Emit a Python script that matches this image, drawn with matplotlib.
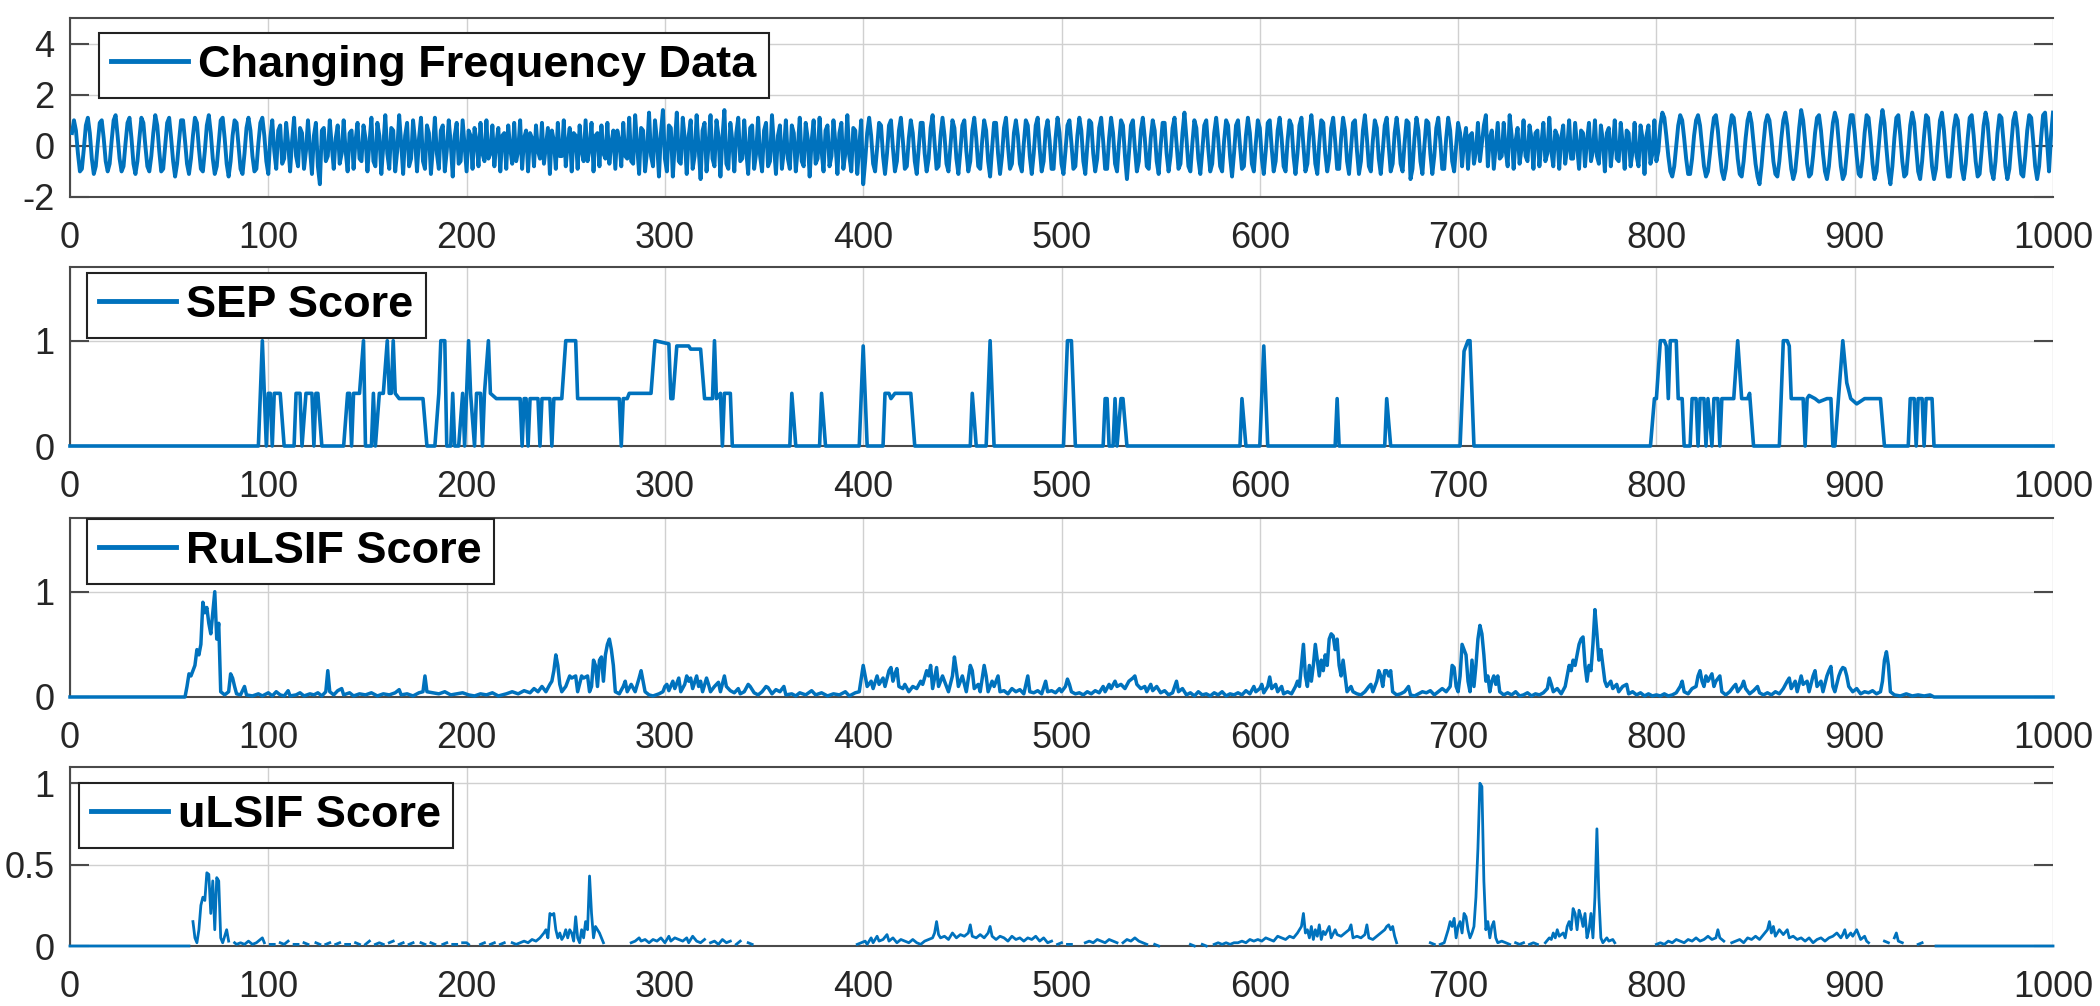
import numpy as np
import matplotlib
matplotlib.use("Agg")
import matplotlib.pyplot as plt

nan = float("nan")

# ---------------- data ----------------
SIGNAL = [
    0.5, 1.0, 0.6, -0.3, -1.0, -0.9, -0.1, 0.8, 1.1, 0.5, -0.5, -1.1, -0.8, 0.1, 0.9, 1.0, 0.3, -0.6, -1.0, -0.7,
    0.2, 1.0, 1.2, 0.4, -0.5, -1.0, -0.8, 0.1, 0.9, 1.1, 0.3, -0.7, -1.1, -0.6, 0.3, 1.1, 0.9, 0.0, -0.8, -1.0,
    -0.4, 0.5, 1.2, 0.8, -0.2, -1.0, -0.9, 0.0, 0.9, 1.1, 0.3, -0.6, -1.2, -0.7, 0.2, 1.0, 1.0, 0.2, -0.7, -1.1,
    -0.5, 0.4, 1.1, 0.9, -0.1, -0.9, -1.0, -0.2, 0.8, 1.2, 0.5, -0.5, -1.1, -0.8, 0.1, 1.0, 1.1, 0.3, -0.7, -1.2,
    -0.6, 0.4, 1.0, 0.9, 0.0, -0.9, -1.1, -0.3, 0.7, 1.1, 0.6, -0.4, -1.0, -0.9, 0.1, 0.9, 1.1, 0.4, -0.6, -1.1,
    0.3, 1.0, -0.2, -0.9, 0.6, 0.8, -0.7, -0.5, 0.9, 0.1, -1.0, 0.2, 1.1, -0.4, -0.8, 0.7, 0.5, -0.9, -0.2, 1.0,
    -0.1, -1.1, 0.4, 0.9, -0.8, -1.5, 0.6, 0.7, -0.6, -0.4, 1.0, 0.0, -0.9, 0.3, 0.8, -0.7, -0.3, 1.0, -0.2, -1.0,
    0.5, 0.6, -0.9, 0.2, 0.9, -0.5, -0.6, 0.8, 0.3, -1.0, 0.1, 1.1, -0.6, -0.8, 0.9, 0.4, -1.1, 0.0, 1.2, -0.3,
    -0.9, 0.7, 0.6, -1.0, -0.2, 1.2, 0.1, -1.1, 0.4, 0.9, -0.8, -0.5, 1.0, 0.2, -1.0, 0.3, 1.1, -0.6, -0.9, 0.8,
    0.5, -1.1, -0.1, 1.1, -0.3, -0.9, 0.6, 0.8, -1.0, -0.2, 1.0, 0.1, -1.2, 0.4, 0.9, -0.7, -0.6, 1.0, 0.0, -1.0,
    0.6, 0.4, -0.9, 0.7, 0.2, -0.8, 0.9, -0.3, -0.6, 1.0, -0.5, -0.3, 0.8, -0.8, 0.1, 0.7, -1.0, 0.4, 0.5, -0.9,
    0.8, -0.1, -0.7, 0.9, -0.6, -0.2, 1.0, -0.9, 0.3, 0.6, -1.0, 0.5, 0.3, -0.8, 0.8, -0.2, -0.5, 0.9, -0.7, 0.0,
    0.7, -1.1, 0.6, 0.2, -0.9, 0.9, -0.4, -0.4, 1.0, -0.8, 0.1, 0.7, -1.0, 0.5, 0.4, -0.9, 0.8, -0.2, -0.6, 1.0,
    -0.6, -0.1, 0.9, -1.0, 0.4, 0.5, -0.8, 0.8, -0.3, -0.5, 0.9, -0.7, 0.1, 0.6, -0.9, 0.6, 0.2, -0.8, 0.9, -0.4,
    -0.5, 1.1, -0.6, -0.7, 1.2, 0.0, -1.1, 0.7, 0.6, -1.0, -0.2, 1.3, -0.4, -0.8, 1.0, 0.2, -1.2, 0.5, 1.4, -0.5,
    -1.0, 0.8, 0.7, -1.2, 0.1, 1.3, -0.6, -0.7, 1.1, 0.3, -1.1, 0.4, 1.0, -0.9, -0.4, 1.2, -0.1, -1.3, 0.6, 0.9,
    -1.0, 0.0, 1.2, -0.5, -0.8, 1.0, 0.4, -1.2, 0.3, 1.4, -0.7, -0.9, 0.9, 0.2, -1.0, 0.5, 1.1, -0.6, -0.5, 1.0,
    -0.2, -1.1, 0.7, 0.8, -0.9, -0.3, 1.1, -0.4, -1.0, 0.6, 0.9, -0.8, -0.6, 1.2, 0.0, -1.1, 0.4, 0.8, -0.9, -0.2,
    1.0, -0.5, -0.9, 0.8, 0.5, -1.0, -0.1, 1.1, -0.6, -0.8, 0.9, 0.3, -1.2, 0.2, 1.0, -0.7, -0.5, 1.1, -0.2, -1.0,
    0.6, 0.8, -0.8, -0.4, 1.0, 0.1, -1.1, 0.5, 0.9, -0.9, -0.3, 1.2, -0.4, -1.0, 0.7, 0.6, -1.1, 0.0, 1.0, -1.5,
    -0.6, 0.5, 1.1, 0.4, -0.7, -1.0, -0.1, 0.9, 0.8, -0.4, -1.1, -0.3, 0.8, 1.0, -0.1, -1.0, -0.6, 0.6, 1.1, 0.2,
    -0.9, -0.8, 0.3, 1.0, 0.5, -0.6, -1.1, -0.1, 0.9, 0.9, -0.3, -1.0, -0.5, 0.7, 1.2, 0.1, -0.9, -0.8, 0.4, 1.1,
    0.4, -0.7, -1.0, 0.0, 1.0, 0.7, -0.5, -1.1, -0.2, 0.8, 1.0, -0.2, -1.0, -0.6, 0.6, 1.1, 0.3, -0.8, -0.9, 0.2,
    1.0, 0.6, -0.6, -1.2, -0.1, 0.9, 0.9, -0.3, -1.1, -0.4, 0.7, 1.1, 0.0, -0.9, -0.7, 0.5, 1.0, 0.4, -0.7, -1.0,
    0.1, 1.0, 0.8, -0.4, -1.1, -0.3, 0.8, 1.1, -0.1, -1.0, -0.6, 0.6, 1.0, 0.2, -0.9, -0.9, 0.3, 1.1, 0.5, -0.7,
    -1.1, -0.2, 0.8, 1.0, 0.1, -0.9, -0.8, 0.4, 1.1, 0.6, -0.6, -1.1, 0.0, 1.0, 0.9, -0.3, -1.0, -0.5, 0.7, 1.1,
    0.2, -0.9, -0.9, 0.3, 1.1, 0.5, -0.7, -1.0, 0.1, 1.0, 0.8, -0.4, -1.3, -0.3, 0.8, 1.0, -0.1, -1.0, -0.6, 0.6,
    1.1, 0.3, -0.8, -0.9, 0.3, 1.0, 0.6, -0.6, -1.1, 0.0, 0.9, 0.9, -0.3, -1.0, -0.4, 0.7, 1.1, 0.1, -0.9, -0.7,
    0.5, 1.3, 0.3, -0.8, -1.0, 0.1, 1.0, 0.7, -0.5, -1.1, -0.2, 0.8, 1.0, -0.1, -1.0, -0.7, 0.5, 1.1, 0.3, -0.8,
    -1.0, 0.2, 1.0, 0.8, -0.4, -1.2, -0.3, 0.8, 1.0, 0.0, -0.9, -0.8, 0.4, 1.1, 0.5, -0.7, -1.0, 0.1, 1.0, 0.7,
    -0.5, -1.1, -0.2, 0.9, 1.0, -0.1, -1.0, -0.6, 0.6, 1.1, 0.3, -0.8, -1.0, 0.2, 1.0, 0.8, -0.4, -1.1, -0.3, 0.8,
    1.1, 0.0, -1.0, -0.7, 0.5, 1.2, 0.4, -0.7, -1.1, 0.1, 1.0, 0.9, -0.3, -1.0, -0.5, 0.7, 1.1, 0.2, -0.9, -0.9,
    0.3, 1.1, 0.6, -0.6, -1.1, -0.1, 0.9, 1.0, -0.2, -1.1, -0.6, 0.6, 1.2, 0.3, -0.8, -1.0, 0.2, 1.0, 0.7, -0.5,
    -1.1, -0.2, 0.8, 1.1, 0.0, -1.0, -0.7, 0.5, 1.1, 0.4, -0.7, -1.0, 0.1, 1.0, 0.9, -1.3, -0.9, 0.3, 1.1, 0.6,
    -0.6, -1.1, 0.0, 1.0, 0.9, -0.3, -1.1, -0.4, 0.7, 1.1, 0.2, -0.9, -0.9, 0.3, 1.1, 0.6, -0.6, -1.0, 0.0, 0.9,
    0.5, -0.8, 0.2, 0.7, -0.9, 0.4, 0.5, -0.7, -0.2, 0.9, -0.6, 0.1, 0.8, 1.2, -0.8, 0.3, 0.6, -0.9, 0.0, 0.9,
    -0.5, -0.4, 0.9, -0.2, -0.8, 1.2, 0.4, -0.9, 0.2, 0.7, -0.7, -0.1, 1.0, -0.4, -0.6, 0.8, 0.3, -0.9, 0.5, 0.6,
    -0.8, 0.1, 0.9, -0.6, -0.3, 1.1, -0.2, -0.8, 0.6, 0.4, -0.9, 0.3, 0.8, -0.7, -0.1, 1.0, -0.5, -0.5, 0.9, 0.0,
    -0.9, 0.6, 0.5, -0.8, 0.2, 0.9, -0.6, -0.2, 1.0, -0.4, -0.7, 0.8, 0.2, -1.0, 0.5, 0.7, -0.8, 0.0, 1.0, -0.5,
    -0.6, 0.9, 0.1, -0.9, 0.6, 0.5, -0.8, -0.2, 0.9, -0.4, -0.8, 0.8, 0.3, -1.1, 0.4, 0.8, -0.7, -0.3, 1.0, -0.6,
    -0.2, 0.8, 1.3, 1.1, 0.4, -0.4, -1.0, -1.2, -0.8, 0.0, 0.8, 1.2, 1.0, 0.3, -0.5, -1.1, -1.1, -0.5, 0.4, 1.0,
    1.2, 0.8, 0.0, -0.8, -1.2, -1.0, -0.3, 0.5, 1.1, 1.2, 0.6, -0.3, -1.0, -1.3, -0.9, -0.1, 0.7, 1.2, 1.1, 0.4,
    -0.5, -1.1, -1.2, -0.6, 0.3, 1.0, 1.3, 0.9, 0.1, -0.7, -1.2, -1.5, -0.8, 0.1, 0.9, 1.2, 1.0, 0.3, -0.6, -1.1,
    -1.2, -0.6, 0.3, 1.0, 1.3, 0.8, -0.1, -0.9, -1.3, -1.0, -0.2, 0.7, 1.4, 1.0, 0.2, -0.7, -1.2, -1.1, -0.4, 0.5,
    1.1, 1.2, 0.6, -0.3, -1.0, -1.3, -0.8, 0.1, 0.9, 1.3, 1.0, 0.1, -0.8, -1.3, -1.1, -0.3, 0.6, 1.2, 1.2, 0.5,
    -0.4, -1.1, -1.2, -0.5, 0.5, 1.2, 1.1, 0.3, -0.7, -1.3, -1.0, -0.1, 0.8, 1.4, 0.9, -0.1, -1.0, -1.5, -0.8, 0.3,
    1.1, 1.2, 0.4, -0.6, -1.2, -1.1, -0.2, 0.8, 1.3, 0.9, -0.1, -1.0, -1.3, -0.6, 0.4, 1.2, 1.1, 0.2, -0.8, -1.3,
    -0.9, 0.1, 1.0, 1.3, 0.6, -0.4, -1.2, -1.2, -0.3, 0.7, 1.2, 1.0, 0.0, -0.9, -1.3, -0.7, 0.3, 1.1, 1.2, 0.4,
    -0.6, -1.2, -1.1, -0.2, 0.8, 1.3, 0.9, -0.1, -1.0, -1.3, -0.6, 0.5, 1.2, 1.1, 0.2, -0.8, -1.3, -0.9, 0.1, 1.0,
    1.3, 0.7, -0.3, -1.1, -1.2, -0.4, 0.6, 1.2, 1.1, 0.2, -0.8, -1.3, -0.8, 0.3, 1.2, 1.3, 0.2, -1.0, 0.4, 1.3,
]

SEP_POINTS = [
    (0, 0), (95, 0), (97, 1), (98, 0.5), (99, 0), (100, 0.5), (101, 0.5), (102, 0), (103, 0.5), (106, 0.5),
    (108, 0), (113, 0), (114, 0.5), (116, 0.5), (117, 0), (119, 0.5), (122, 0.5), (123, 0), (124, 0.5),
    (125, 0.5), (127, 0), (138, 0), (140, 0.5), (141, 0.5), (142, 0), (143, 0.5), (146, 0.5), (148, 1),
    (149, 0), (152, 0), (153, 0.5), (154, 0), (156, 0.5), (158, 0.5), (160, 1), (161, 0.5), (162, 0.5),
    (163, 1), (164, 0.5), (166, 0.45), (178, 0.45), (180, 0), (184, 0), (186, 0.5), (187, 1), (189, 1),
    (190, 0), (192, 0), (193, 0.5), (194, 0), (196, 0), (198, 0.5), (199, 0), (201, 1), (202, 0.5), (204, 0),
    (205, 0.5), (207, 0.5), (208, 0), (209, 0.5), (211, 1), (212, 0.5), (215, 0.45), (227, 0.45), (228, 0),
    (229, 0.45), (230, 0.45), (231, 0), (232, 0.45), (236, 0.45), (237, 0), (238, 0.45), (242, 0.45),
    (243, 0), (244, 0.45), (248, 0.45), (250, 1), (255, 1), (256, 0.45), (277, 0.45), (278, 0), (279, 0.45),
    (281, 0.45), (282, 0.5), (293, 0.5), (295, 1), (302, 0.97), (303, 0.45), (304, 0.45), (306, 0.95),
    (312, 0.95), (313, 0.92), (318, 0.92), (320, 0.45), (324, 0.45), (325, 1), (326, 0.45), (328, 0.5),
    (329, 0), (330, 0.5), (333, 0.5), (334, 0), (363, 0), (364, 0.5), (366, 0), (378, 0), (379, 0.5),
    (381, 0), (398, 0), (400, 0.95), (402, 0), (410, 0), (411, 0.5), (413, 0.5), (414, 0.45), (416, 0.5),
    (424, 0.5), (426, 0), (454, 0), (455, 0.5), (457, 0), (462, 0), (464, 1), (466, 0), (501, 0), (503, 1),
    (505, 1), (507, 0), (521, 0), (522, 0.45), (523, 0.45), (524, 0), (526, 0), (527, 0.45), (528, 0),
    (530, 0.45), (531, 0.45), (533, 0), (590, 0), (591, 0.45), (593, 0), (600, 0), (602, 0.95), (604, 0),
    (638, 0), (639, 0.45), (640, 0), (663, 0), (664, 0.45), (666, 0), (701, 0), (703, 0.9), (705, 1),
    (706, 1), (708, 0), (797, 0), (799, 0.45), (800, 0.45), (802, 1), (804, 1), (805, 0.95), (806, 0.45),
    (807, 1), (810, 1), (811, 0.45), (813, 0.45), (814, 0), (817, 0), (818, 0.45), (820, 0.45), (821, 0),
    (822, 0.45), (824, 0.45), (825, 0), (826, 0.45), (828, 0), (829, 0.45), (831, 0.45), (832, 0),
    (833, 0.45), (839, 0.45), (841, 1), (843, 0.45), (846, 0.45), (847, 0.5), (849, 0), (862, 0), (864, 1),
    (866, 1), (867, 0.95), (868, 0.45), (874, 0.45), (875, 0), (876, 0.45), (877, 0.48), (880, 0.45),
    (882, 0.42), (886, 0.45), (888, 0.45), (889, 0), (890, 0), (892, 0.5), (894, 1), (896, 0.6), (898, 0.45),
    (901, 0.4), (905, 0.45), (913, 0.45), (915, 0), (927, 0), (928, 0.45), (930, 0.45), (931, 0),
    (932, 0.45), (934, 0.45), (935, 0), (936, 0.45), (939, 0.45), (940, 0), (1000, 0),
]

RULSIF_POINTS = [
    (0, 0.0), (58, 0.0), (59, 0.1), (60, 0.22), (61, 0.2), (62, 0.25), (63, 0.3), (64, 0.45), (65, 0.4),
    (66, 0.5), (67, 0.9), (68, 0.8), (69, 0.85), (70, 0.7), (71, 0.6), (72, 0.8), (73, 1.0), (74, 0.55),
    (75, 0.7), (76, 0.05), (78, 0.02), (80, 0.05), (81, 0.22), (82, 0.18), (83, 0.1), (84, 0.03), (86, 0.02),
    (88, 0.1), (89, 0.02), (92, 0.01), (95, 0.03), (97, 0.01), (100, 0.04), (102, 0.01), (104, 0.05),
    (106, 0.02), (108, 0.01), (110, 0.06), (111, 0.01), (114, 0.02), (116, 0.04), (118, 0.01), (121, 0.03),
    (123, 0.02), (125, 0.04), (127, 0.01), (129, 0.05), (130, 0.25), (131, 0.05), (133, 0.02), (135, 0.06),
    (137, 0.08), (138, 0.02), (141, 0.04), (143, 0.01), (146, 0.03), (149, 0.02), (152, 0.04), (155, 0.01),
    (158, 0.03), (161, 0.02), (164, 0.04), (166, 0.07), (167, 0.02), (170, 0.03), (173, 0.01), (176, 0.04),
    (178, 0.05), (179, 0.2), (180, 0.05), (183, 0.04), (186, 0.03), (189, 0.05), (192, 0.02), (195, 0.03),
    (198, 0.04), (201, 0.02), (204, 0.01), (207, 0.03), (210, 0.02), (213, 0.04), (216, 0.01), (220, 0.03),
    (223, 0.05), (226, 0.03), (229, 0.06), (232, 0.04), (234, 0.08), (236, 0.05), (238, 0.1), (240, 0.05),
    (242, 0.12), (243, 0.15), (244, 0.25), (245, 0.4), (246, 0.3), (247, 0.12), (248, 0.05), (250, 0.1),
    (252, 0.2), (253, 0.18), (255, 0.2), (256, 0.05), (258, 0.2), (259, 0.18), (261, 0.2), (262, 0.05),
    (263, 0.1), (264, 0.35), (265, 0.3), (266, 0.1), (267, 0.35), (268, 0.38), (269, 0.15), (270, 0.4),
    (271, 0.5), (272, 0.55), (273, 0.45), (274, 0.3), (275, 0.05), (277, 0.03), (279, 0.1), (280, 0.15),
    (281, 0.05), (283, 0.12), (285, 0.05), (287, 0.18), (288, 0.25), (289, 0.15), (290, 0.05), (292, 0.02),
    (294, 0.01), (297, 0.03), (299, 0.05), (300, 0.1), (301, 0.12), (302, 0.06), (304, 0.15), (305, 0.08),
    (307, 0.18), (308, 0.05), (310, 0.12), (311, 0.2), (312, 0.15), (313, 0.18), (314, 0.08), (316, 0.2),
    (317, 0.1), (318, 0.15), (319, 0.05), (321, 0.18), (322, 0.12), (323, 0.05), (325, 0.1), (327, 0.14),
    (328, 0.05), (330, 0.2), (331, 0.1), (333, 0.06), (335, 0.04), (337, 0.08), (338, 0.03), (340, 0.05),
    (342, 0.12), (343, 0.1), (345, 0.04), (347, 0.02), (349, 0.05), (351, 0.1), (352, 0.09), (354, 0.03),
    (356, 0.07), (358, 0.05), (360, 0.1), (361, 0.02), (364, 0.03), (366, 0.01), (368, 0.04), (371, 0.02),
    (374, 0.06), (376, 0.02), (379, 0.04), (382, 0.01), (385, 0.03), (388, 0.02), (391, 0.05), (393, 0.01),
    (396, 0.04), (398, 0.05), (400, 0.3), (401, 0.2), (402, 0.1), (404, 0.15), (405, 0.08), (407, 0.2),
    (408, 0.12), (410, 0.18), (411, 0.1), (413, 0.25), (414, 0.28), (415, 0.15), (416, 0.22), (417, 0.27),
    (418, 0.1), (420, 0.08), (421, 0.12), (423, 0.05), (425, 0.1), (427, 0.08), (429, 0.15), (430, 0.12),
    (432, 0.25), (433, 0.2), (434, 0.3), (435, 0.08), (437, 0.28), (438, 0.1), (440, 0.2), (441, 0.15),
    (443, 0.05), (445, 0.2), (446, 0.38), (447, 0.25), (448, 0.1), (450, 0.2), (452, 0.05), (454, 0.3),
    (455, 0.25), (456, 0.08), (458, 0.12), (459, 0.05), (461, 0.3), (462, 0.2), (463, 0.05), (465, 0.15),
    (466, 0.1), (468, 0.2), (469, 0.05), (471, 0.06), (473, 0.03), (475, 0.08), (477, 0.05), (479, 0.07),
    (481, 0.03), (483, 0.2), (484, 0.05), (486, 0.04), (488, 0.06), (490, 0.03), (492, 0.15), (493, 0.05),
    (495, 0.06), (497, 0.04), (499, 0.08), (500, 0.05), (502, 0.1), (503, 0.17), (504, 0.12), (505, 0.05),
    (507, 0.03), (509, 0.04), (511, 0.02), (513, 0.05), (515, 0.03), (517, 0.06), (519, 0.04), (521, 0.1),
    (522, 0.05), (524, 0.12), (525, 0.08), (527, 0.15), (528, 0.1), (530, 0.12), (532, 0.08), (534, 0.15),
    (536, 0.18), (537, 0.2), (538, 0.12), (540, 0.08), (542, 0.1), (543, 0.05), (545, 0.12), (546, 0.06),
    (548, 0.1), (550, 0.04), (552, 0.06), (554, 0.02), (556, 0.04), (558, 0.15), (559, 0.05), (561, 0.08),
    (563, 0.02), (565, 0.04), (567, 0.01), (569, 0.05), (571, 0.02), (573, 0.03), (575, 0.01), (577, 0.04),
    (579, 0.02), (581, 0.05), (583, 0.01), (585, 0.03), (587, 0.02), (589, 0.04), (591, 0.02), (593, 0.06),
    (595, 0.03), (597, 0.1), (598, 0.05), (600, 0.08), (601, 0.12), (602, 0.04), (604, 0.1), (605, 0.19),
    (606, 0.08), (608, 0.12), (609, 0.05), (611, 0.1), (612, 0.03), (614, 0.05), (616, 0.03), (618, 0.1),
    (619, 0.15), (620, 0.1), (621, 0.3), (622, 0.5), (623, 0.2), (624, 0.1), (625, 0.3), (626, 0.15),
    (627, 0.3), (628, 0.5), (629, 0.35), (630, 0.2), (631, 0.35), (632, 0.25), (633, 0.4), (634, 0.3),
    (635, 0.55), (636, 0.6), (637, 0.58), (638, 0.45), (639, 0.55), (640, 0.3), (641, 0.2), (642, 0.35),
    (643, 0.2), (644, 0.05), (646, 0.1), (647, 0.05), (649, 0.03), (651, 0.02), (653, 0.05), (655, 0.1),
    (656, 0.12), (657, 0.05), (659, 0.15), (660, 0.25), (661, 0.2), (662, 0.1), (663, 0.25), (664, 0.25),
    (665, 0.2), (666, 0.25), (667, 0.05), (669, 0.02), (671, 0.03), (673, 0.05), (675, 0.1), (676, 0.02),
    (678, 0.01), (680, 0.03), (682, 0.05), (684, 0.04), (686, 0.06), (688, 0.02), (690, 0.05), (692, 0.08),
    (694, 0.05), (696, 0.1), (697, 0.3), (698, 0.28), (699, 0.1), (700, 0.05), (701, 0.2), (702, 0.5),
    (703, 0.45), (704, 0.4), (705, 0.15), (706, 0.05), (707, 0.35), (708, 0.1), (709, 0.3), (710, 0.55),
    (711, 0.68), (712, 0.6), (713, 0.4), (714, 0.15), (715, 0.2), (716, 0.05), (717, 0.15), (718, 0.2),
    (719, 0.12), (720, 0.2), (721, 0.05), (723, 0.02), (725, 0.04), (727, 0.02), (729, 0.05), (731, 0.01),
    (733, 0.02), (735, 0.04), (737, 0.01), (739, 0.03), (741, 0.02), (743, 0.04), (745, 0.08), (746, 0.18),
    (747, 0.12), (748, 0.05), (750, 0.08), (752, 0.03), (754, 0.1), (755, 0.2), (756, 0.3), (757, 0.25),
    (758, 0.35), (759, 0.3), (760, 0.4), (761, 0.5), (762, 0.55), (763, 0.57), (764, 0.3), (765, 0.15),
    (766, 0.3), (767, 0.25), (768, 0.5), (769, 0.83), (770, 0.6), (771, 0.35), (772, 0.45), (773, 0.3),
    (774, 0.15), (775, 0.1), (777, 0.15), (778, 0.08), (780, 0.12), (781, 0.05), (783, 0.1), (785, 0.12),
    (786, 0.03), (788, 0.05), (790, 0.02), (792, 0.04), (794, 0.01), (796, 0.03), (798, 0.01), (800, 0.02),
    (802, 0.01), (804, 0.03), (806, 0.01), (808, 0.02), (810, 0.04), (812, 0.1), (813, 0.15), (814, 0.05),
    (816, 0.03), (818, 0.08), (820, 0.1), (821, 0.2), (822, 0.25), (823, 0.15), (824, 0.1), (825, 0.2),
    (826, 0.15), (828, 0.22), (829, 0.1), (830, 0.15), (832, 0.2), (833, 0.05), (835, 0.02), (837, 0.05),
    (839, 0.1), (840, 0.12), (841, 0.05), (843, 0.1), (844, 0.15), (845, 0.08), (847, 0.03), (849, 0.06),
    (851, 0.1), (852, 0.04), (854, 0.02), (856, 0.04), (858, 0.02), (860, 0.05), (862, 0.03), (864, 0.08),
    (866, 0.15), (867, 0.18), (868, 0.08), (870, 0.15), (871, 0.05), (873, 0.2), (874, 0.12), (876, 0.15),
    (877, 0.05), (879, 0.2), (880, 0.25), (881, 0.1), (883, 0.15), (884, 0.05), (886, 0.2), (887, 0.25),
    (888, 0.29), (889, 0.1), (890, 0.05), (892, 0.2), (893, 0.25), (894, 0.28), (895, 0.27), (896, 0.2),
    (897, 0.1), (899, 0.05), (901, 0.08), (903, 0.03), (905, 0.05), (907, 0.04), (909, 0.06), (911, 0.03),
    (913, 0.05), (914, 0.15), (915, 0.35), (916, 0.43), (917, 0.3), (918, 0.05), (920, 0.02), (923, 0.01),
    (926, 0.03), (929, 0.01), (932, 0.02), (935, 0.01), (938, 0.02), (940, 0.0), (1000, 0.0),
]

ULSIF_POINTS = [
    (0, 0.0), (60, 0.0), (61, nan), (62, 0.15), (63, 0.05), (64, 0.02), (65, 0.1), (66, 0.25), (67, 0.3),
    (68, 0.28), (69, 0.45), (70, 0.44), (71, 0.2), (72, 0.4), (73, 0.1), (74, 0.42), (75, 0.4), (76, 0.05),
    (77, 0.02), (79, 0.1), (80, 0.03), (81, nan), (83, 0.02), (84, 0.01), (86, 0.02), (88, 0.01), (90, 0.03),
    (92, 0.01), (94, 0.02), (96, 0.04), (97, 0.05), (98, 0.02), (99, nan), (101, 0.01), (103, 0.01),
    (104, nan), (106, 0.02), (108, 0.01), (110, 0.03), (111, nan), (113, 0.01), (115, 0.01), (116, nan),
    (118, 0.02), (120, 0.01), (122, nan), (124, 0.02), (126, 0.01), (127, nan), (129, 0.01), (131, 0.02),
    (132, nan), (134, 0.01), (136, 0.02), (137, nan), (139, 0.01), (141, 0.01), (142, nan), (144, 0.02),
    (146, 0.01), (147, nan), (149, 0.01), (151, 0.03), (152, nan), (154, 0.01), (156, 0.02), (158, 0.01),
    (159, nan), (161, 0.02), (163, 0.03), (164, nan), (166, 0.01), (168, 0.02), (169, nan), (171, 0.01),
    (173, 0.02), (175, nan), (177, 0.02), (179, 0.01), (180, nan), (182, 0.02), (184, 0.01), (186, nan),
    (188, 0.01), (190, 0.02), (191, nan), (193, 0.01), (195, 0.01), (196, nan), (198, 0.02), (200, 0.02),
    (201, 0.01), (202, nan), (204, 0.02), (205, nan), (207, 0.01), (209, 0.02), (210, nan), (212, 0.01),
    (214, 0.02), (215, nan), (217, 0.01), (219, 0.02), (221, nan), (223, 0.02), (225, 0.01), (227, 0.02),
    (229, 0.03), (231, 0.02), (233, 0.04), (235, 0.03), (237, 0.05), (239, 0.08), (240, 0.1), (241, 0.05),
    (242, 0.2), (243, 0.19), (244, 0.2), (245, 0.1), (246, 0.05), (247, 0.08), (248, 0.04), (249, 0.06),
    (250, 0.1), (251, 0.05), (252, 0.1), (253, 0.08), (254, 0.03), (255, 0.18), (256, 0.05), (257, 0.02),
    (258, 0.1), (259, 0.05), (260, 0.15), (261, 0.1), (262, 0.43), (263, 0.2), (264, 0.05), (265, 0.12),
    (266, 0.1), (267, 0.08), (268, 0.05), (269, 0.02), (270, nan), (272, 0.02), (273, nan), (276, 0.01),
    (277, nan), (280, 0.02), (281, nan), (283, 0.02), (285, 0.03), (287, 0.05), (288, 0.03), (290, 0.04),
    (292, 0.02), (294, 0.04), (296, 0.03), (298, 0.05), (300, 0.02), (302, 0.06), (303, 0.03), (305, 0.05),
    (307, 0.04), (309, 0.03), (311, 0.05), (312, 0.02), (314, 0.06), (316, 0.03), (318, 0.02), (320, 0.04),
    (321, nan), (323, 0.02), (325, 0.03), (327, 0.01), (329, 0.04), (331, 0.02), (333, 0.03), (334, nan),
    (336, 0.01), (338, 0.03), (339, nan), (342, 0.02), (344, 0.01), (345, nan), (348, 0.01), (350, nan),
    (353, 0.01), (354, nan), (358, 0.01), (359, nan), (363, 0.01), (364, nan), (370, 0.02), (371, nan),
    (380, 0.01), (381, nan), (397, 0.01), (399, 0.02), (401, 0.03), (402, 0.01), (404, 0.05), (405, 0.02),
    (407, 0.06), (408, 0.03), (410, 0.04), (412, 0.07), (413, 0.03), (415, 0.05), (417, 0.02), (419, 0.04),
    (421, 0.03), (423, 0.02), (425, 0.04), (427, 0.02), (429, 0.01), (431, 0.03), (433, 0.04), (435, 0.05),
    (436, 0.08), (437, 0.15), (438, 0.07), (439, 0.05), (441, 0.06), (443, 0.04), (445, 0.08), (447, 0.05),
    (449, 0.07), (451, 0.06), (453, 0.08), (454, 0.13), (455, 0.06), (457, 0.05), (459, 0.07), (461, 0.05),
    (463, 0.08), (464, 0.12), (465, 0.06), (467, 0.04), (469, 0.06), (471, 0.05), (473, 0.03), (475, 0.06),
    (477, 0.04), (479, 0.05), (481, 0.03), (483, 0.05), (485, 0.04), (487, 0.06), (489, 0.03), (491, 0.05),
    (493, 0.02), (495, 0.03), (496, nan), (498, 0.01), (500, 0.02), (501, nan), (503, 0.01), (505, 0.01),
    (506, nan), (512, 0.02), (514, 0.03), (516, 0.02), (518, 0.04), (520, 0.03), (522, 0.02), (524, 0.04),
    (526, 0.03), (528, 0.02), (529, nan), (531, 0.02), (533, 0.04), (535, 0.03), (537, 0.05), (539, 0.03),
    (541, 0.02), (543, 0.01), (544, nan), (547, 0.01), (549, 0.0), (550, nan), (553, 0.01), (554, nan),
    (557, -0.01), (558, nan), (561, 0.0), (562, nan), (565, 0.01), (567, 0.0), (568, nan), (571, 0.01),
    (573, 0.0), (574, nan), (577, 0.01), (579, 0.02), (581, 0.01), (583, 0.02), (585, 0.01), (587, 0.02),
    (589, 0.02), (591, 0.03), (593, 0.02), (595, 0.04), (597, 0.03), (599, 0.04), (601, 0.03), (603, 0.05),
    (605, 0.04), (607, 0.03), (609, 0.06), (611, 0.05), (613, 0.04), (615, 0.06), (617, 0.05), (619, 0.08),
    (620, 0.1), (621, 0.12), (622, 0.2), (623, 0.08), (624, 0.1), (625, 0.05), (626, 0.12), (627, 0.04),
    (628, 0.1), (629, 0.06), (630, 0.13), (631, 0.04), (632, 0.09), (633, 0.07), (635, 0.12), (636, 0.05),
    (638, 0.1), (639, 0.07), (641, 0.06), (643, 0.08), (645, 0.1), (646, 0.13), (647, 0.05), (649, 0.06),
    (651, 0.05), (653, 0.07), (654, 0.13), (655, 0.05), (657, 0.04), (659, 0.06), (661, 0.08), (663, 0.1),
    (664, 0.12), (665, 0.13), (666, 0.1), (667, 0.12), (668, 0.06), (669, 0.02), (670, nan), (686, 0.02),
    (688, 0.01), (689, nan), (691, 0.01), (693, 0.02), (695, 0.1), (696, 0.15), (697, 0.12), (698, 0.17),
    (699, 0.05), (700, 0.12), (701, 0.15), (702, 0.08), (703, 0.2), (704, 0.18), (705, 0.1), (706, 0.05),
    (707, 0.08), (708, 0.12), (709, 0.3), (710, 0.6), (711, 1.0), (712, 0.98), (713, 0.4), (714, 0.1),
    (715, 0.15), (716, 0.05), (717, 0.12), (718, 0.15), (719, 0.05), (720, 0.02), (722, 0.03), (724, 0.02),
    (726, 0.01), (727, nan), (729, 0.02), (731, 0.01), (733, 0.02), (734, nan), (736, 0.01), (738, 0.02),
    (740, 0.01), (741, nan), (744, 0.02), (746, 0.05), (747, 0.04), (748, 0.08), (749, 0.05), (750, 0.1),
    (751, 0.06), (753, 0.08), (754, 0.05), (755, 0.12), (756, 0.15), (757, 0.1), (758, 0.23), (759, 0.2),
    (760, 0.1), (761, 0.22), (762, 0.18), (763, 0.12), (764, 0.2), (765, 0.05), (766, 0.1), (767, 0.2),
    (768, 0.05), (769, 0.3), (770, 0.72), (771, 0.3), (772, 0.05), (773, 0.02), (775, 0.05), (776, 0.03),
    (778, 0.04), (779, 0.02), (780, nan), (783, 0.01), (784, nan), (787, 0.0), (788, nan), (800, 0.01),
    (802, 0.02), (804, 0.01), (806, 0.03), (808, 0.02), (810, 0.04), (812, 0.03), (814, 0.02), (816, 0.04),
    (818, 0.03), (820, 0.05), (822, 0.03), (824, 0.04), (826, 0.06), (828, 0.04), (830, 0.05), (831, 0.1),
    (832, 0.05), (834, 0.03), (835, nan), (838, 0.02), (840, 0.03), (842, 0.04), (844, 0.02), (846, 0.05),
    (848, 0.04), (850, 0.06), (852, 0.04), (854, 0.07), (856, 0.1), (857, 0.15), (858, 0.08), (859, 0.12),
    (860, 0.06), (862, 0.1), (864, 0.07), (866, 0.1), (867, 0.05), (869, 0.06), (871, 0.04), (873, 0.05),
    (875, 0.03), (877, 0.05), (879, 0.02), (881, 0.04), (883, 0.05), (885, 0.03), (887, 0.05), (889, 0.06),
    (891, 0.08), (893, 0.05), (894, 0.07), (895, 0.1), (896, 0.05), (898, 0.08), (899, 0.06), (901, 0.1),
    (902, 0.07), (903, 0.04), (905, 0.06), (906, 0.03), (907, 0.02), (908, nan), (911, 0.02), (912, nan),
    (915, 0.03), (917, 0.02), (918, nan), (920, 0.05), (921, 0.08), (922, 0.03), (924, 0.02), (925, nan),
    (928, 0.02), (929, nan), (932, 0.01), (934, 0.02), (935, nan), (937, 0.01), (938, nan), (941, 0.0),
    (1000, 0.0),
]

LABELS = ["Changing Frequency Data", "SEP Score", "RuLSIF Score", "uLSIF Score"]
XTICKS = [0, 100, 200, 300, 400, 500, 600, 700, 800, 900, 1000]
YTICKS = [[-2, 0, 2, 4], [0, 1], [0, 1], [0, 0.5, 1]]
YTICKLABELS = [["-2", "0", "2", "4"], ["0", "1"], ["0", "1"], ["0", "0.5", "1"]]
YLIMS = [(-2, 5), (0, 1.7), (0, 1.7), (0, 1.1)]

# ---------------- style ----------------
BLUE = "#0072BD"
TXT = "#262626"
plt.rcParams["font.family"] = ["Liberation Sans", "DejaVu Sans"]

W, H = 2100, 1006
fig = plt.figure(figsize=(W / 100, H / 100), dpi=100)
fig.patch.set_facecolor("white")

ax_left, ax_w, ax_h = 70 / W, 1983 / W, 179 / H
tops = [18, 267, 518, 767]
leg_anchor = [(0.0146, 0.916), (0.0086, 0.966), (0.0086, 0.995), (0.0045, 0.911)]
lws = [2.8, 2.6, 2.5, 2.0]


def split(points):
    xs = [p[0] for p in points]
    ys = [p[1] for p in points]
    return xs, ys


series = [
    (np.arange(1, len(SIGNAL) + 1), np.array(SIGNAL)),
    split(SEP_POINTS),
    split(RULSIF_POINTS),
    split(ULSIF_POINTS),
]

for i in range(4):
    bottom = 1 - (tops[i] + 179) / H
    ax = fig.add_axes([ax_left, bottom, ax_w, ax_h])
    xs, ys = series[i]
    ax.plot(xs, ys, color=BLUE, lw=lws[i], label=LABELS[i], zorder=3,
            clip_on=(i == 0))
    ax.set_xlim(0, 1000)
    ax.set_ylim(*YLIMS[i])
    ax.set_xticks(XTICKS)
    ax.set_xticklabels([str(t) for t in XTICKS])
    ax.set_yticks(YTICKS[i])
    ax.set_yticklabels(YTICKLABELS[i])
    ax.grid(True, color="#d0d0d0", lw=1.0)
    ax.set_axisbelow(True)
    for s in ["top", "bottom", "left"]:
        ax.spines[s].set_color("#4a4a4a")
        ax.spines[s].set_linewidth(1.5)
        ax.spines[s].set_zorder(2.5)
    ax.spines["right"].set_visible(False)
    ax.tick_params(axis="y", direction="in", length=14, width=1.5, color="#4a4a4a",
                   labelsize=26, labelcolor=TXT, pad=11, left=True, right=True)
    ax.tick_params(axis="x", direction="in", length=0, labelsize=26, labelcolor=TXT, pad=17)
    leg = ax.legend(loc="upper left", bbox_to_anchor=leg_anchor[i], borderaxespad=0,
                    prop={"family": ["Liberation Sans", "DejaVu Sans"], "weight": "bold", "size": 32.5},
                    handlelength=1.7, handletextpad=0.23, borderpad=0.27,
                    fancybox=False, framealpha=1, edgecolor="#222222")
    leg.get_frame().set_linewidth(1.5)
    leg.set_zorder(5)
    for ln in leg.get_lines():
        ln.set_linewidth(3.5)

fig.savefig("out.png", dpi=100, facecolor="white")
